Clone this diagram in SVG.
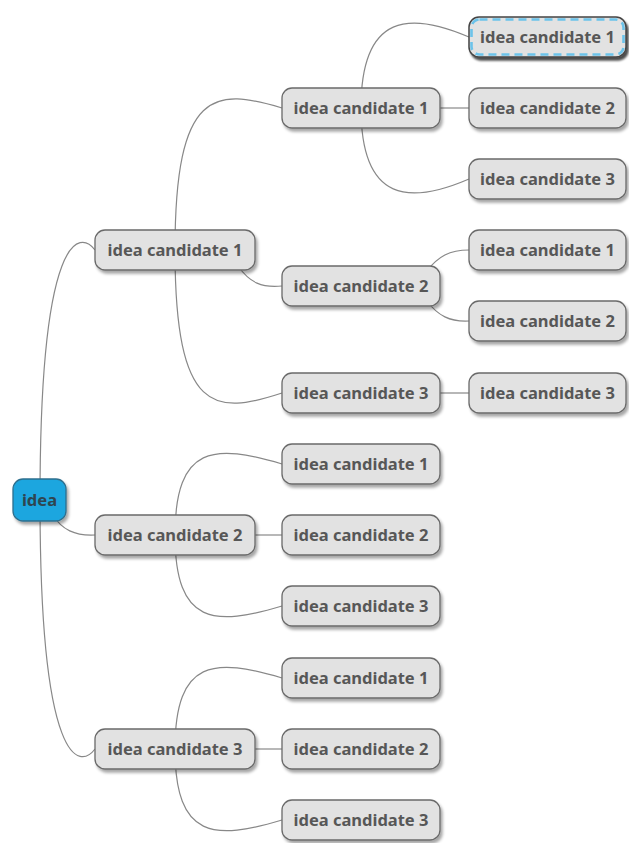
<svg xmlns="http://www.w3.org/2000/svg" width="629" height="843" viewBox="0 0 629 843">
<defs>
<filter id="sh" x="-10%" y="-20%" width="130%" height="160%">
<feDropShadow dx="2" dy="3" stdDeviation="1.6" flood-color="#000" flood-opacity="0.35"/>
</filter>
<filter id="sh2" x="-10%" y="-20%" width="130%" height="160%">
<feDropShadow dx="2" dy="3" stdDeviation="1.2" flood-color="#000" flood-opacity="0.7"/>
</filter>
</defs>
<style>
.n rect{fill:#E2E2E2;stroke:#6A6A6A;stroke-width:1.3}
.n text{font-family:"Noto Sans","Open Sans",sans-serif;font-weight:bold;font-size:16.5px;fill:#575757;text-anchor:middle}
.e path{fill:none;stroke:#888888;stroke-width:1.2}
</style>
<g class="e" id="connectors">
<path d="M40 500 C40 230 80 230 95 250"/>
<path d="M52 514 C62 530 75 536 95 535"/>
<path d="M40 500 C40 769 80 769 95 749"/>
<path d="M175 250 C175 88 215 88 282 108"/>
<path d="M238 266 C250 283 262 288 282 286"/>
<path d="M175 250 C175 415 215 415 282 393"/>
<path d="M175 535 C175 444 215 444 282 464"/>
<path d="M255 535 L282 535"/>
<path d="M175 535 C175 626 215 626 282 606"/>
<path d="M175 749 C175 658 215 658 282 678"/>
<path d="M255 749 L282 749"/>
<path d="M175 749 C175 840 215 840 282 820"/>
<path d="M361 108 C361 12 411 12 469 37"/>
<path d="M440 108 L469 108"/>
<path d="M361 108 C361 204 411 204 469 179"/>
<path d="M426 272 C438 256 450 250 469 250"/>
<path d="M426 300 C438 316 450 322 469 321"/>
<path d="M440 393 L469 393"/>
</g>
<g class="n" id="root"><rect x="13" y="479" width="53" height="42" rx="10" style="fill:#1FA6DF;stroke:#2D6F8E" filter="url(#sh)"/><text x="39.5" y="506" style="fill:#2F4550">idea</text></g>
<g class="n" id="n1"><rect x="95" y="230" width="160" height="40" rx="10" filter="url(#sh)"/><text x="175" y="256">idea candidate 1</text></g>
<g class="n" id="n2"><rect x="95" y="515" width="160" height="40" rx="10" filter="url(#sh)"/><text x="175" y="541">idea candidate 2</text></g>
<g class="n" id="n3"><rect x="95" y="729" width="160" height="40" rx="10" filter="url(#sh)"/><text x="175" y="755">idea candidate 3</text></g>
<g class="n" id="n11"><rect x="282" y="88" width="158" height="40" rx="10" filter="url(#sh)"/><text x="361" y="114">idea candidate 1</text></g>
<g class="n" id="n12"><rect x="282" y="266" width="158" height="40" rx="10" filter="url(#sh)"/><text x="361" y="292">idea candidate 2</text></g>
<g class="n" id="n13"><rect x="282" y="373" width="158" height="40" rx="10" filter="url(#sh)"/><text x="361" y="399">idea candidate 3</text></g>
<g class="n" id="n21"><rect x="282" y="444" width="158" height="40" rx="10" filter="url(#sh)"/><text x="361" y="470">idea candidate 1</text></g>
<g class="n" id="n22"><rect x="282" y="515" width="158" height="40" rx="10" filter="url(#sh)"/><text x="361" y="541">idea candidate 2</text></g>
<g class="n" id="n23"><rect x="282" y="586" width="158" height="40" rx="10" filter="url(#sh)"/><text x="361" y="612">idea candidate 3</text></g>
<g class="n" id="n31"><rect x="282" y="658" width="158" height="40" rx="10" filter="url(#sh)"/><text x="361" y="684">idea candidate 1</text></g>
<g class="n" id="n32"><rect x="282" y="729" width="158" height="40" rx="10" filter="url(#sh)"/><text x="361" y="755">idea candidate 2</text></g>
<g class="n" id="n33"><rect x="282" y="800" width="158" height="40" rx="10" filter="url(#sh)"/><text x="361" y="826">idea candidate 3</text></g>
<g class="n" id="n111"><rect x="469" y="17" width="157" height="40" rx="10" style="stroke:#444;stroke-width:1.5" filter="url(#sh2)"/><rect x="471.5" y="19.5" width="152" height="35" rx="8" style="fill:none;stroke:#6CC3EA;stroke-width:2.6;stroke-dasharray:8 5"/><text x="547.5" y="43">idea candidate 1</text></g>
<g class="n" id="n112"><rect x="469" y="88" width="157" height="40" rx="10" filter="url(#sh)"/><text x="547.5" y="114">idea candidate 2</text></g>
<g class="n" id="n113"><rect x="469" y="159" width="157" height="40" rx="10" filter="url(#sh)"/><text x="547.5" y="185">idea candidate 3</text></g>
<g class="n" id="n121"><rect x="469" y="230" width="157" height="40" rx="10" filter="url(#sh)"/><text x="547.5" y="256">idea candidate 1</text></g>
<g class="n" id="n122"><rect x="469" y="301" width="157" height="40" rx="10" filter="url(#sh)"/><text x="547.5" y="327">idea candidate 2</text></g>
<g class="n" id="n131"><rect x="469" y="373" width="157" height="40" rx="10" filter="url(#sh)"/><text x="547.5" y="399">idea candidate 3</text></g>
</svg>
